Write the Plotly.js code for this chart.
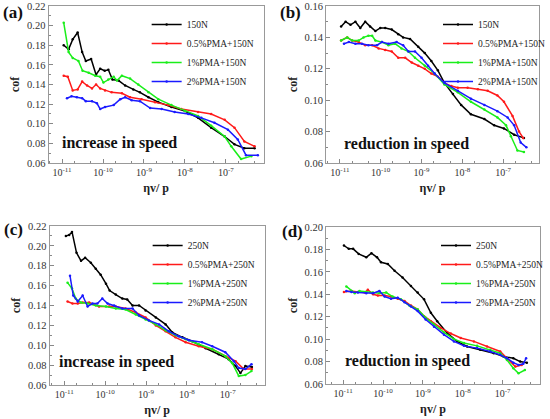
<!DOCTYPE html>
<html><head><meta charset="utf-8">
<script src="https://cdn.plot.ly/plotly-3.0.1.min.js"></script>
<style>html,body{margin:0;padding:0;background:#fff}#chart{width:550px;height:419px}</style>
</head><body><div id="chart"></div>
<script>
// ---- series names / colours / ticks ----
const namesTop = ['150N', '0.5%PMA+150N', '1%PMA+150N', '2%PMA+150N'];
const namesBottom = ['250N', '0.5%PMA+250N', '1%PMA+250N', '2%PMA+250N'];
const seriesColors = ['#000000', '#ff1a1a', '#1aee1a', '#1a1aff'];
const xTickVals = [1e-11, 1e-10, 1e-9, 1e-8, 1e-7];
const xTickText = ['10<sup>-11</sup>', '10<sup>-10</sup>', '10<sup>-9</sup>', '10<sup>-8</sup>', '10<sup>-7</sup>'];
const panelLetters = ['(a)', '(b)', '(c)', '(d)'];
const panelNotes = ['increase in speed', 'reduction in speed', 'increase in speed', 'reduction in speed'];

// ---- (a) increase in speed, 150N : x as log10(ηv/p) ----
const aLogX0 = [-10.96,-10.84,-10.74,-10.62,-10.51,-10.42,-10.29,-10.17,-10.07,-9.96,-9.87,-9.77,-9.62,-9.46,-9.26,-9.10,-8.89,-8.65,-8.33,-8.00,-7.68,-7.36,-7.03,-6.79,-6.55,-6.30];
const aY0 = [0.180,0.176,0.186,0.193,0.173,0.164,0.166,0.150,0.156,0.154,0.155,0.145,0.144,0.139,0.135,0.132,0.127,0.122,0.117,0.113,0.106,0.096,0.087,0.079,0.075,0.075];
const aLogX1 = [-10.96,-10.86,-10.74,-10.62,-10.51,-10.39,-10.27,-10.17,-10.07,-9.95,-9.79,-9.54,-9.34,-9.06,-8.73,-8.41,-8.09,-7.68,-7.36,-7.03,-6.79,-6.55,-6.30];
const aY1 = [0.149,0.148,0.134,0.135,0.143,0.139,0.136,0.140,0.136,0.134,0.132,0.131,0.127,0.125,0.122,0.119,0.115,0.112,0.110,0.104,0.096,0.082,0.077];
const aLogX2 = [-10.96,-10.84,-10.74,-10.60,-10.50,-10.35,-10.19,-10.07,-9.99,-9.87,-9.74,-9.66,-9.54,-9.34,-9.14,-8.89,-8.65,-8.33,-8.00,-7.68,-7.36,-7.03,-6.87,-6.63,-6.38];
const aY2 = [0.203,0.173,0.167,0.164,0.154,0.152,0.149,0.148,0.142,0.145,0.148,0.144,0.149,0.146,0.140,0.132,0.125,0.119,0.113,0.108,0.098,0.087,0.077,0.064,0.067];
const aLogX3 = [-10.88,-10.77,-10.64,-10.51,-10.42,-10.27,-10.15,-10.07,-9.95,-9.74,-9.58,-9.46,-9.30,-9.10,-8.85,-8.57,-8.25,-7.92,-7.60,-7.28,-6.95,-6.71,-6.51,-6.22];
const aY3 = [0.126,0.128,0.127,0.126,0.123,0.123,0.121,0.115,0.117,0.119,0.125,0.127,0.124,0.123,0.116,0.115,0.112,0.110,0.106,0.101,0.094,0.084,0.068,0.068];

// ---- (b) reduction in speed, 150N ----
const bLogX0 = [-10.97,-10.86,-10.74,-10.62,-10.50,-10.38,-10.26,-10.13,-10.01,-9.89,-9.73,-9.57,-9.45,-9.28,-9.08,-8.92,-8.76,-8.60,-8.44,-8.23,-8.03,-7.79,-7.46,-7.22,-6.98,-6.73,-6.49];
const bY0 = [0.147,0.150,0.148,0.150,0.146,0.150,0.147,0.144,0.146,0.146,0.145,0.142,0.140,0.139,0.134,0.130,0.125,0.119,0.111,0.104,0.097,0.091,0.088,0.084,0.082,0.078,0.076];
const bLogX1 = [-10.97,-10.82,-10.70,-10.54,-10.38,-10.21,-10.05,-9.89,-9.73,-9.57,-9.40,-9.24,-9.08,-8.92,-8.76,-8.60,-8.44,-8.27,-8.11,-7.87,-7.62,-7.38,-7.14,-6.98,-6.77,-6.61,-6.51];
const bY1 = [0.138,0.140,0.138,0.137,0.135,0.135,0.133,0.132,0.131,0.127,0.127,0.124,0.122,0.120,0.117,0.115,0.111,0.109,0.108,0.108,0.107,0.106,0.103,0.099,0.090,0.080,0.076];
const bLogX2 = [-10.97,-10.82,-10.70,-10.54,-10.42,-10.30,-10.21,-10.13,-9.97,-9.81,-9.65,-9.49,-9.32,-9.16,-8.92,-8.68,-8.44,-8.11,-7.79,-7.46,-7.14,-6.93,-6.81,-6.65,-6.49];
const bY2 = [0.138,0.140,0.138,0.138,0.140,0.141,0.141,0.138,0.137,0.135,0.136,0.133,0.131,0.127,0.122,0.117,0.110,0.105,0.099,0.094,0.089,0.084,0.077,0.068,0.067];
const bLogX3 = [-10.90,-10.78,-10.62,-10.46,-10.30,-10.09,-9.97,-9.81,-9.61,-9.45,-9.32,-9.16,-9.00,-8.84,-8.68,-8.44,-8.11,-7.79,-7.46,-7.14,-6.89,-6.73,-6.57,-6.43];
const bY3 = [0.136,0.137,0.136,0.136,0.135,0.135,0.137,0.136,0.137,0.135,0.131,0.131,0.127,0.122,0.117,0.111,0.106,0.101,0.097,0.093,0.089,0.084,0.073,0.070];

// ---- (c) increase in speed, 250N ----
const cLogX0 = [-10.96,-10.88,-10.81,-10.70,-10.59,-10.49,-10.35,-10.23,-10.11,-9.98,-9.89,-9.74,-9.58,-9.46,-9.33,-9.17,-9.01,-8.76,-8.52,-8.36,-8.11,-7.87,-7.54,-7.22,-6.98,-6.81,-6.69,-6.57,-6.41];
const cY0 = [0.210,0.211,0.214,0.193,0.185,0.188,0.183,0.177,0.171,0.162,0.155,0.151,0.147,0.146,0.140,0.140,0.135,0.128,0.121,0.113,0.108,0.104,0.097,0.091,0.086,0.079,0.072,0.079,0.078];
const cLogX1 = [-10.92,-10.80,-10.67,-10.55,-10.39,-10.15,-9.90,-9.74,-9.50,-9.25,-9.01,-8.76,-8.52,-8.28,-8.03,-7.71,-7.38,-7.06,-6.81,-6.61,-6.41];
const cY1 = [0.144,0.142,0.142,0.143,0.143,0.139,0.139,0.139,0.137,0.133,0.128,0.120,0.114,0.108,0.103,0.099,0.096,0.089,0.084,0.076,0.076];
const cLogX2 = [-10.92,-10.81,-10.72,-10.59,-10.43,-10.23,-9.98,-9.74,-9.50,-9.25,-9.01,-8.76,-8.52,-8.28,-8.03,-7.71,-7.38,-7.06,-6.89,-6.73,-6.57,-6.42];
const cY2 = [0.163,0.157,0.147,0.143,0.142,0.140,0.139,0.137,0.136,0.131,0.126,0.121,0.115,0.110,0.106,0.101,0.096,0.089,0.082,0.069,0.070,0.074];
const cLogX3 = [-10.86,-10.78,-10.67,-10.55,-10.43,-10.31,-10.19,-10.07,-9.94,-9.78,-9.58,-9.33,-9.17,-8.93,-8.68,-8.44,-8.20,-7.95,-7.63,-7.38,-7.06,-6.85,-6.73,-6.57,-6.42];
const cY3 = [0.170,0.150,0.144,0.150,0.139,0.142,0.142,0.147,0.142,0.140,0.137,0.137,0.130,0.125,0.121,0.114,0.109,0.105,0.103,0.099,0.093,0.084,0.077,0.076,0.081];

// ---- (d) reduction in speed, 250N ----
const dLogX0 = [-10.98,-10.86,-10.75,-10.61,-10.42,-10.29,-10.15,-10.05,-9.88,-9.71,-9.51,-9.30,-9.13,-8.97,-8.80,-8.64,-8.39,-8.14,-7.89,-7.56,-7.22,-6.98,-6.73,-6.56,-6.39];
const dY0 = [0.1835,0.1805,0.1805,0.176,0.173,0.1766,0.173,0.1685,0.167,0.161,0.155,0.1475,0.1415,0.1355,0.1235,0.116,0.1055,0.098,0.0935,0.0905,0.0875,0.0845,0.083,0.080,0.079];
const dLogX1 = [-10.98,-10.79,-10.63,-10.46,-10.38,-10.25,-10.13,-9.96,-9.80,-9.63,-9.46,-9.30,-9.13,-8.97,-8.80,-8.55,-8.30,-8.05,-7.72,-7.39,-7.06,-6.89,-6.68,-6.52];
const dY1 = [0.142,0.143,0.142,0.1415,0.144,0.140,0.139,0.139,0.138,0.136,0.134,0.130,0.1265,0.1205,0.116,0.110,0.105,0.101,0.098,0.0935,0.089,0.083,0.0755,0.077];
const dLogX2 = [-10.92,-10.79,-10.71,-10.59,-10.42,-10.25,-10.09,-9.92,-9.76,-9.55,-9.34,-9.13,-8.93,-8.72,-8.47,-8.22,-7.97,-7.64,-7.31,-7.06,-6.89,-6.73,-6.60,-6.44];
const dY2 = [0.147,0.143,0.141,0.143,0.142,0.1415,0.141,0.1415,0.138,0.1355,0.130,0.1265,0.119,0.113,0.106,0.100,0.0965,0.094,0.0905,0.0875,0.0815,0.074,0.0695,0.0725];
const dLogX3 = [-10.92,-10.79,-10.63,-10.42,-10.25,-10.09,-9.96,-9.80,-9.63,-9.46,-9.30,-9.13,-8.93,-8.72,-8.47,-8.22,-7.97,-7.64,-7.31,-7.06,-6.89,-6.73,-6.60,-6.48,-6.41];
const dY3 = [0.143,0.142,0.1415,0.141,0.141,0.143,0.138,0.136,0.137,0.133,0.129,0.125,0.1175,0.111,0.104,0.098,0.094,0.092,0.089,0.086,0.083,0.079,0.077,0.078,0.083];

// ---- axis ranges ----
const yRanges = [[0.06, 0.22], [0.06, 0.16], [0.06, 0.22], [0.06, 0.20]];
const xLogRanges = [[-11.33, -6.08], [-11.34, -6.12], [-11.36, -6.10], [-11.43, -6.06]];

const serif = 'Liberation Serif, Times New Roman, serif';
const toX = arr => arr.map(v => Math.pow(10, v));

const panelSeries = [
  [[aLogX0, aY0], [aLogX1, aY1], [aLogX2, aY2], [aLogX3, aY3]],
  [[bLogX0, bY0], [bLogX1, bY1], [bLogX2, bY2], [bLogX3, bY3]],
  [[cLogX0, cY0], [cLogX1, cY1], [cLogX2, cY2], [cLogX3, cY3]],
  [[dLogX0, dY0], [dLogX1, dY1], [dLogX2, dY2], [dLogX3, dY3]]
];

const traces = [];
panelSeries.forEach((series, p) => {
  const names = p < 2 ? namesTop : namesBottom;
  const suf = p === 0 ? '' : String(p + 1);
  series.forEach((s, i) => {
    traces.push({
      type: 'scatter', mode: 'lines+markers',
      x: toX(s[0]), y: s[1], name: names[i],
      xaxis: 'x' + suf, yaxis: 'y' + suf,
      legend: 'legend' + suf,
      line: {color: seriesColors[i], width: 1.5},
      marker: {color: seriesColors[i], size: 2.5}
    });
  });
});

// layout geometry (paper fractions)
const xDomains = [[49/550, 266/550], [329/550, 544/550], [50/550, 267/550], [329/550, 545/550]];
const yDomains = [[1-163/419, 1-6/419], [1-163/419, 1-6/419], [1-385/419, 1-226/419], [1-384/419, 1-227/419]];
const legendPos = [[148/550, 1-10/419], [442/550, 1-10/419], [149/550, 1-231/419], [440/550, 1-231/419]];
const letterPos = [[13/550, 1-13/419], [293/550, 1-13/419], [14/550, 1-230/419], [295/550, 1-231/419]];
const notePos = [[121/550, 1-143/419], [410/550, 1-144/419], [118/550, 1-362/419], [411/550, 1-361/419]];

const layout = {
  width: 550, height: 419,
  margin: {l: 0, r: 0, t: 0, b: 0},
  paper_bgcolor: '#fff', plot_bgcolor: '#fff',
  font: {family: serif, color: '#222'},
  showlegend: true,
  annotations: []
};

for (let p = 0; p < 4; p++) {
  const suf = p === 0 ? '' : String(p + 1);
  layout['xaxis' + suf] = {
    domain: xDomains[p], anchor: 'y' + suf, type: 'log', range: xLogRanges[p],
    tickvals: xTickVals, ticktext: xTickText,
    ticks: 'inside', ticklen: 4, tickcolor: '#888', tickwidth: 1,
    minor: {ticks: 'inside', ticklen: 2, tickcolor: '#888', showgrid: false},
    showline: true, linecolor: '#999', linewidth: 1, mirror: true,
    showgrid: false, zeroline: false,
    tickfont: {family: serif, size: 10, color: '#333'},
    title: {text: '<b>ηv/ p</b>', font: {family: serif, size: 12, color: '#222'}, standoff: 6}
  };
  layout['yaxis' + suf] = {
    domain: yDomains[p], anchor: 'x' + suf, range: yRanges[p],
    dtick: 0.02, tickformat: '.2f',
    ticks: 'inside', ticklen: 4, tickcolor: '#888', tickwidth: 1,
    minor: {ticks: 'inside', ticklen: 2, tickcolor: '#888', dtick: 0.01, showgrid: false},
    showline: true, linecolor: '#999', linewidth: 1, mirror: true,
    showgrid: false, zeroline: false,
    tickfont: {family: serif, size: 10.5, color: '#333'},
    title: {text: '<b>cof</b>', font: {family: serif, size: 12, color: '#222'}, standoff: 4}
  };
  layout['legend' + suf] = {
    x: legendPos[p][0], y: legendPos[p][1], xanchor: 'left', yanchor: 'top',
    bgcolor: 'rgba(0,0,0,0)', borderwidth: 0,
    font: {family: serif, size: 9.5, color: '#222'},
    tracegroupgap: 0, itemwidth: 30
  };
  layout.annotations.push({
    xref: 'paper', yref: 'paper', x: letterPos[p][0], y: letterPos[p][1],
    text: '<b>' + panelLetters[p] + '</b>', showarrow: false,
    xanchor: 'center', yanchor: 'middle',
    font: {family: serif, size: 17, color: '#111'}
  });
  layout.annotations.push({
    xref: 'paper', yref: 'paper', x: notePos[p][0], y: notePos[p][1],
    text: '<b>' + panelNotes[p] + '</b>', showarrow: false,
    xanchor: 'center', yanchor: 'middle',
    font: {family: serif, size: 16, color: '#111'}
  });
}

Plotly.newPlot('chart', traces, layout, {staticPlot: true, displayModeBar: false});
</script>
</body></html>
